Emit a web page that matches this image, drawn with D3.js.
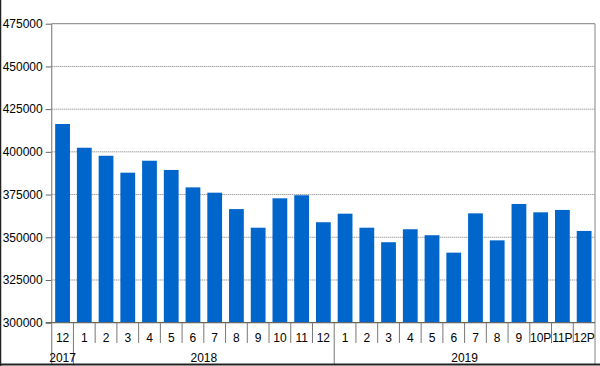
<!DOCTYPE html>
<html>
<head>
<meta charset="utf-8">
<script src="https://cdn.jsdelivr.net/npm/d3@7"></script>
<style>
  html, body { margin: 0; padding: 0; background: #fff; }
  svg { display: block; }
  text { font-family: "Liberation Sans", Arial, sans-serif; font-size: 12px; fill: #000; }
</style>
</head>
<body>
<svg id="chart" width="600" height="366"></svg>
<script>
const categories = ["12","1","2","3","4","5","6","7","8","9","10","11","12","1","2","3","4","5","6","7","8","9","10P","11P","12P"];
const values = [416300,402400,397700,387800,394800,389400,379200,376100,366500,355600,372800,374600,358800,
                363800,355600,347100,354700,351200,341000,364000,348200,369500,364600,366000,353700];
const years = [{label:"2017", start:0, end:0}, {label:"2018", start:1, end:12}, {label:"2019", start:13, end:24}];
const yTicks = [300000,325000,350000,375000,400000,425000,450000,475000];

const svg = d3.select("#chart");
const pLeft = 51.7, pRight = 595, pTop = 23.7, pBottom = 322.7;

const x = d3.scaleBand().domain(d3.range(categories.length)).range([pLeft, pRight]).paddingInner(0.32).paddingOuter(0.16);
const xBand = d3.scaleBand().domain(d3.range(categories.length)).range([pLeft, pRight]);
const y = d3.scaleLinear().domain([300000, 475000]).range([pBottom, pTop]);

// gridlines
svg.append("g").selectAll("line").data(yTicks.slice(1, -1)).join("line")
  .attr("x1", pLeft).attr("x2", pRight)
  .attr("y1", d => y(d)).attr("y2", d => y(d))
  .attr("stroke", "#777").attr("stroke-width", 1).attr("stroke-dasharray", "1,1");

// bars
svg.append("g").selectAll("rect").data(values).join("rect")
  .attr("x", (d, i) => x(i)).attr("width", x.bandwidth())
  .attr("y", d => y(d)).attr("height", d => y(300000) - y(d))
  .attr("fill", "#0066CC");

// plot border (top, right)
svg.append("line").attr("x1", pLeft).attr("x2", pRight).attr("y1", pTop).attr("y2", pTop).attr("stroke", "#999").attr("stroke-width", 1.2);
svg.append("line").attr("x1", pRight).attr("x2", pRight).attr("y1", pTop).attr("y2", 364).attr("stroke", "#999").attr("stroke-width", 1.2);

// y axis
const yAxis = d3.axisLeft(y).tickValues(yTicks).tickSize(6).tickPadding(3).tickFormat(d3.format("d"));
const ya = svg.append("g").attr("transform", `translate(${pLeft},0)`).call(yAxis);
ya.select(".domain").remove();
ya.selectAll(".tick line").attr("stroke", "#666");
ya.selectAll(".tick text").attr("font-size", 12).attr("font-family", "Liberation Sans, Arial, sans-serif").attr("fill", "#000");
svg.append("line").attr("x1", pLeft).attr("x2", pLeft).attr("y1", pTop).attr("y2", 364).attr("stroke", "#888").attr("stroke-width", 1.2);

// x axis line
svg.append("line").attr("x1", pLeft - 6).attr("x2", pRight).attr("y1", pBottom).attr("y2", pBottom).attr("stroke", "#666").attr("stroke-width", 1.2);

// category separators
const seps = d3.range(1, categories.length);
const yearBounds = new Set(years.map(d => d.start).filter(s => s > 0));
svg.append("g").selectAll("line").data(seps).join("line")
  .attr("x1", i => xBand(i)).attr("x2", i => xBand(i))
  .attr("y1", pBottom).attr("y2", i => yearBounds.has(i) ? 364 : 343)
  .attr("stroke", "#777").attr("stroke-width", 1);

// category labels
svg.append("g").selectAll("text").data(categories).join("text")
  .attr("x", (d, i) => xBand(i) + xBand.bandwidth() / 2)
  .attr("y", 341.5)
  .attr("text-anchor", "middle")
  .text(d => d);

// year labels
svg.append("g").selectAll("text").data(years).join("text")
  .attr("x", d => (xBand(d.start) + xBand(d.end) + xBand.bandwidth()) / 2)
  .attr("y", 362)
  .attr("text-anchor", "middle")
  .text(d => d.label);

// image frame edges
svg.append("line").attr("x1", 0.5).attr("x2", 0.5).attr("y1", 0).attr("y2", 366).attr("stroke", "#222").attr("stroke-width", 1.5);
svg.append("line").attr("x1", 0).attr("x2", 600).attr("y1", 364.5).attr("y2", 364.5).attr("stroke", "#222").attr("stroke-width", 2);
</script>
</body>
</html>
